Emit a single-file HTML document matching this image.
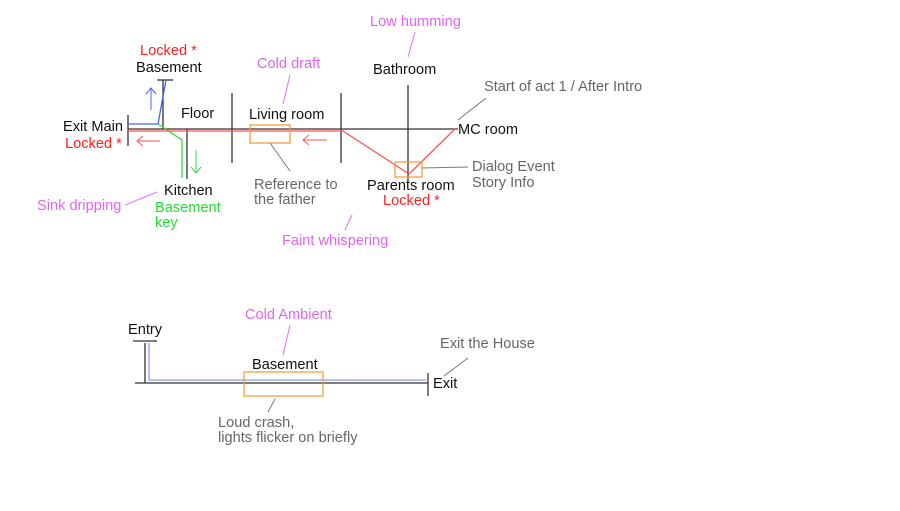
<!DOCTYPE html>
<html><head><style>
body{margin:0;background:#fff;}
svg text{font-family:"Liberation Sans",sans-serif;font-size:14.6px;}
</style></head><body>
<svg width="900" height="506" xmlns="http://www.w3.org/2000/svg">
<g stroke="#333" stroke-width="1.3" fill="none">
<line x1="128" y1="129" x2="458" y2="129"/>
<line x1="128" y1="115" x2="128" y2="146"/>
<line x1="163" y1="80" x2="163" y2="129"/>
<line x1="157" y1="80" x2="173" y2="80"/>
<line x1="187" y1="129" x2="187" y2="179"/>
<line x1="232" y1="93" x2="232" y2="163"/>
<line x1="341" y1="93" x2="341" y2="163"/>
<line x1="408" y1="85" x2="408" y2="182"/>
</g>
<polyline points="128,124 158,124 166,80" stroke="#4466ee" stroke-width="1.3" fill="none"/>
<polyline points="158,124 182,140 182,178" stroke="#33dd44" stroke-width="1.3" fill="none"/>
<polyline points="128,131 343,131 409,174 456,128" stroke="#ff5555" stroke-width="1.3" fill="none"/>
<g stroke="#4466ee" stroke-width="1" fill="none"><line x1="151" y1="110" x2="151" y2="88"/><polyline points="146,94 151,88 156,94"/></g>
<g stroke="#33dd44" stroke-width="1" fill="none"><line x1="196" y1="150" x2="196" y2="173"/><polyline points="191,167 196,173 201,167"/></g>
<g stroke="#ff5555" stroke-width="1" fill="none"><line x1="137" y1="141" x2="160" y2="141"/><polyline points="143,136 137,141 143,146"/>
<line x1="303" y1="140" x2="327" y2="140"/><polyline points="309,135 303,140 309,145"/></g>
<g stroke="#f0a040" stroke-width="1.3" fill="none"><rect x="250" y="125" width="40" height="18"/><rect x="395" y="162" width="27" height="15"/></g>
<g stroke="#777" stroke-width="1"><line x1="270" y1="143" x2="290" y2="171"/><line x1="422" y1="168" x2="468" y2="167"/><line x1="486" y1="98" x2="458" y2="120"/><line x1="275" y1="399" x2="268" y2="412"/><line x1="468" y1="358" x2="444" y2="376"/></g>
<g stroke="#e070f0" stroke-width="1"><line x1="290" y1="75" x2="283" y2="104"/><line x1="415" y1="32" x2="408" y2="57"/><line x1="125" y1="205" x2="157" y2="192"/><line x1="352" y1="215" x2="345" y2="230"/><line x1="290" y1="325" x2="283" y2="355"/></g>
<g stroke="#333" stroke-width="1.3" fill="none"><line x1="135" y1="383" x2="428" y2="383"/><line x1="428" y1="373" x2="428" y2="396"/><line x1="133" y1="341" x2="157" y2="341"/><line x1="145" y1="343" x2="145" y2="383"/></g>
<polyline points="149,343 149,380 426,380" stroke="#8899ff" stroke-width="1.3" fill="none"/>
<rect x="244" y="372" width="79" height="24" stroke="#f0a040" stroke-width="1.3" fill="none"/>
<g fill="#111">
<text x="136" y="72">Basement</text><text x="63" y="131">Exit Main</text><text x="181" y="118">Floor</text>
<text x="249" y="119">Living room</text><text x="373" y="74">Bathroom</text><text x="458" y="134">MC room</text>
<text x="164" y="195">Kitchen</text><text x="367" y="190">Parents room</text>
<text x="128" y="334">Entry</text><text x="252" y="369">Basement</text><text x="433" y="388">Exit</text>
</g>
<g fill="#ff2020"><text x="140" y="55">Locked *</text><text x="65" y="148">Locked *</text><text x="383" y="205">Locked *</text></g>
<g fill="#22dd33"><text x="155" y="212">Basement</text><text x="155" y="227">key</text></g>
<g fill="#dd66ee"><text x="370" y="26">Low humming</text><text x="257" y="68">Cold draft</text><text x="37" y="210">Sink dripping</text><text x="282" y="245">Faint whispering</text><text x="245" y="319">Cold Ambient</text></g>
<g fill="#666"><text x="484" y="91">Start of act 1 / After Intro</text><text x="472" y="171">Dialog Event</text><text x="472" y="187">Story Info</text>
<text x="254" y="189">Reference to</text><text x="254" y="204">the father</text><text x="440" y="348">Exit the House</text>
<text x="218" y="427">Loud crash,</text><text x="218" y="442">lights flicker on briefly</text></g>
</svg>
</body></html>
